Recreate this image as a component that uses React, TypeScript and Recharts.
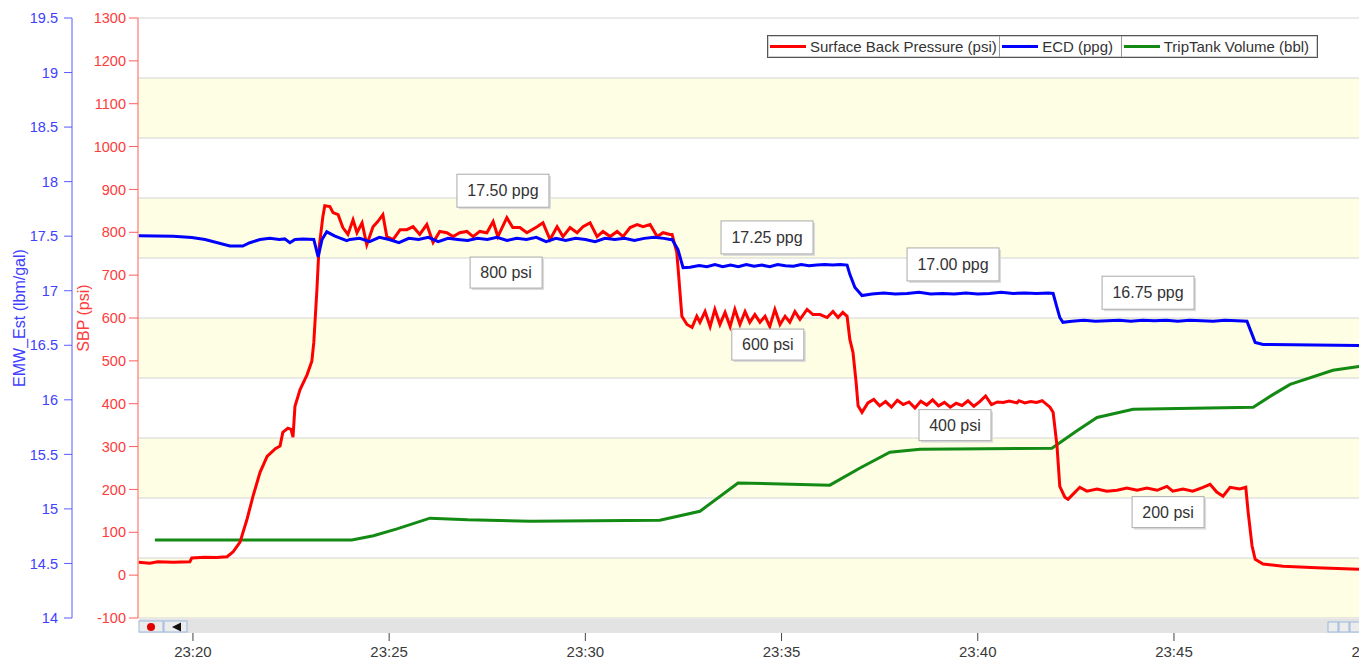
import { LineChart, Line, XAxis, YAxis, Legend, ReferenceDot, ReferenceArea, ReferenceLine } from 'recharts';

// time axis is minutes after 23:00
const timeTicks = [20, 25, 30, 35, 40, 45, 50];
const emwTicks = [14, 14.5, 15, 15.5, 16, 16.5, 17, 17.5, 18, 18.5, 19, 19.5];
const sbpTicks = [-100, 0, 100, 200, 300, 400, 500, 600, 700, 800, 900, 1000, 1100, 1200, 1300];
const bandLines = [0, 1, 2, 3, 4, 5, 6, 7, 8, 9, 10];
const yellowBandStarts = [0, 2, 4, 6, 8];

const seriesNames = ['Surface Back Pressure (psi)', 'ECD (ppg)', 'TripTank Volume (bbl)'];
const seriesColors = ['#ff0000', '#0000ff', '#138a13'];

// [time, psi]
const sbpPoints: [number, number][] = [
  [18.62, 30], [18.9, 28], [19.1, 31], [19.5, 30], [19.92, 31], [19.97, 40], [20.3, 42], [20.6, 41],
  [20.87, 43], [21.02, 54], [21.2, 77], [21.38, 131], [21.53, 184], [21.71, 240], [21.89, 277],
  [22.1, 295], [22.22, 301], [22.29, 333], [22.42, 343], [22.5, 340], [22.55, 322], [22.6, 394],
  [22.73, 433], [22.91, 468], [23.03, 499], [23.08, 543], [23.16, 667], [23.21, 760], [23.31, 836],
  [23.36, 862], [23.49, 860], [23.57, 846], [23.7, 841], [23.82, 811], [23.95, 795], [24.08, 829],
  [24.18, 799], [24.31, 822], [24.43, 771], [24.59, 813], [24.71, 825], [24.84, 841], [24.94, 790],
  [25.1, 783], [25.28, 806], [25.45, 806], [25.61, 813], [25.78, 795], [25.96, 818], [26.12, 776],
  [26.29, 802], [26.47, 799], [26.63, 790], [26.8, 799], [26.98, 802], [27.14, 790], [27.31, 802],
  [27.49, 799], [27.65, 825], [27.77, 790], [28.0, 834], [28.15, 811], [28.33, 811], [28.51, 799],
  [28.77, 813], [28.92, 822], [29.1, 783], [29.28, 813], [29.43, 790], [29.61, 811], [29.79, 799],
  [29.94, 813], [30.12, 822], [30.3, 790], [30.45, 802], [30.63, 790], [30.81, 802], [30.96, 790],
  [31.14, 811], [31.32, 818], [31.47, 813], [31.65, 818], [31.83, 790], [31.98, 799], [32.16, 795],
  [32.21, 795], [32.33, 753], [32.36, 720], [32.46, 604], [32.59, 585], [32.72, 578], [32.84, 604],
  [32.92, 590], [33.05, 615], [33.18, 580], [33.3, 620], [33.43, 585], [33.56, 613], [33.69, 580],
  [33.81, 620], [33.94, 585], [34.07, 615], [34.19, 590], [34.32, 608], [34.45, 590], [34.58, 604],
  [34.7, 580], [34.83, 620], [34.96, 585], [35.09, 604], [35.21, 590], [35.34, 615], [35.47, 597],
  [35.65, 620], [35.8, 608], [35.98, 608], [36.16, 601], [36.31, 615], [36.44, 601], [36.56, 613],
  [36.67, 604], [36.74, 550], [36.82, 520], [36.9, 450], [36.95, 395], [37.05, 380], [37.2, 402],
  [37.35, 410], [37.5, 395], [37.65, 405], [37.8, 392], [37.95, 408], [38.1, 398], [38.25, 404],
  [38.4, 390], [38.55, 406], [38.7, 397], [38.85, 409], [39.0, 395], [39.15, 403], [39.3, 392],
  [39.45, 401], [39.6, 396], [39.75, 407], [39.9, 394], [40.05, 405], [40.2, 418], [40.35, 398],
  [40.5, 404], [40.65, 403], [40.8, 406], [41.0, 402], [41.05, 407], [41.2, 402], [41.35, 405],
  [41.5, 403], [41.64, 407], [41.84, 392], [41.92, 380], [42.02, 301], [42.09, 207], [42.22, 182],
  [42.3, 177], [42.43, 189], [42.6, 205], [42.78, 196], [43.04, 201], [43.29, 196], [43.55, 198],
  [43.8, 203], [44.06, 198], [44.31, 203], [44.57, 198], [44.82, 207], [44.97, 196], [45.23, 201],
  [45.48, 196], [45.74, 205], [45.92, 212], [46.09, 194], [46.25, 184], [46.43, 205], [46.68, 201],
  [46.83, 205], [46.89, 147], [46.99, 68], [47.07, 37], [47.27, 26], [47.78, 21], [48.64, 17],
  [49.71, 14], [50.6, 14],
];

// [time, ppg]
const ecdPoints: [number, number][] = [
  [18.62, 17.505], [19.5, 17.5], [19.97, 17.487], [20.31, 17.47], [20.94, 17.41], [21.27, 17.41],
  [21.45, 17.44], [21.71, 17.47], [21.96, 17.48], [22.2, 17.47], [22.34, 17.475], [22.47, 17.44],
  [22.6, 17.47], [22.8, 17.475], [23.08, 17.47], [23.19, 17.31], [23.29, 17.47], [23.41, 17.54],
  [23.62, 17.5], [23.92, 17.46], [24.0, 17.47], [24.25, 17.48], [24.5, 17.45], [24.75, 17.49],
  [25.0, 17.47], [25.25, 17.44], [25.5, 17.48], [25.75, 17.47], [26.0, 17.49], [26.25, 17.45],
  [26.5, 17.48], [26.75, 17.47], [27.0, 17.46], [27.25, 17.48], [27.5, 17.47], [27.75, 17.49],
  [28.0, 17.46], [28.25, 17.48], [28.5, 17.47], [28.75, 17.49], [29.0, 17.45], [29.25, 17.48],
  [29.5, 17.46], [29.75, 17.48], [30.0, 17.47], [30.25, 17.45], [30.5, 17.48], [30.75, 17.47],
  [31.0, 17.48], [31.25, 17.46], [31.5, 17.48], [31.75, 17.49], [32.0, 17.48], [32.16, 17.47],
  [32.21, 17.47], [32.36, 17.377], [32.49, 17.212], [32.67, 17.215], [32.9, 17.23], [33.1, 17.22],
  [33.3, 17.24], [33.5, 17.22], [33.7, 17.235], [33.9, 17.22], [34.1, 17.24], [34.3, 17.225],
  [34.5, 17.235], [34.7, 17.22], [34.9, 17.24], [35.1, 17.23], [35.3, 17.225], [35.5, 17.24],
  [35.7, 17.23], [35.9, 17.235], [36.1, 17.24], [36.3, 17.235], [36.5, 17.24], [36.67, 17.235],
  [36.74, 17.15], [36.87, 17.03], [37.05, 16.956], [37.3, 16.97], [37.6, 16.98], [37.9, 16.97],
  [38.2, 16.975], [38.5, 16.985], [38.8, 16.97], [39.1, 16.975], [39.4, 16.97], [39.7, 16.98],
  [40.0, 16.97], [40.3, 16.975], [40.6, 16.985], [40.9, 16.975], [41.2, 16.98], [41.5, 16.975],
  [41.8, 16.98], [41.92, 16.975], [42.0, 16.87], [42.09, 16.755], [42.17, 16.71], [42.4, 16.72],
  [42.7, 16.73], [43.0, 16.72], [43.3, 16.725], [43.6, 16.73], [43.9, 16.72], [44.2, 16.73],
  [44.5, 16.725], [44.8, 16.73], [45.1, 16.72], [45.4, 16.73], [45.7, 16.725], [46.0, 16.72],
  [46.3, 16.73], [46.6, 16.725], [46.86, 16.72], [46.99, 16.6], [47.07, 16.526], [47.27, 16.507],
  [49.71, 16.498], [50.6, 16.498],
];

// [time, trip tank reading on the SBP scale]
const tripPoints: [number, number][] = [
  [19.03, 82], [24.05, 82], [24.6, 92], [25.2, 108], [26.04, 133], [27.0, 129], [28.59, 126],
  [31.9, 128], [32.92, 149], [33.89, 215], [36.23, 210], [37.0, 250], [37.76, 287], [38.53, 294],
  [41.89, 296], [42.5, 335], [43.04, 368], [43.96, 387], [47.02, 392], [47.5, 420], [47.96, 445],
  [49.05, 478], [49.71, 487], [50.6, 490],
];

const noteText = ['17.50 ppg', '800 psi', '17.25 ppg', '600 psi', '17.00 ppg', '400 psi', '16.75 ppg', '200 psi'];
const noteTime = [27.9, 27.98, 34.63, 34.65, 39.37, 39.42, 44.34, 44.85];
const noteSbp = [897, 706, 788, 538, 725, 350, 659, 147];

const toRows = (pts: [number, number][]) => pts.map(([t, v]) => ({ t, v }));
const sbpData = toRows(sbpPoints);
const ecdData = toRows(ecdPoints);
const tripData = toRows(tripPoints);

const cellWidths = [232, 122, 197];

// axis ids sort in placement order: the first one sits next to the plot
const SBP_AXIS = 'a1-sbp';
const EMW_AXIS = 'a2-emw';

function LegendBox() {
  return (
    <div
      style={{
        display: 'flex',
        height: 23,
        border: '1px solid #555',
        boxShadow: 'inset 0 0 0 1px #d0d0d0',
        background: '#fff',
        boxSizing: 'border-box',
      }}
    >
      {seriesNames.map((name, i) => (
        <div
          key={name}
          style={{
            display: 'flex',
            alignItems: 'center',
            width: cellWidths[i],
            boxSizing: 'border-box',
            borderLeft: i ? '1px solid #999' : 'none',
            paddingLeft: 2,
          }}
        >
          <span style={{ width: 36, height: 3, background: seriesColors[i], marginRight: 4, flex: 'none' }} />
          <span style={{ fontSize: 15, color: '#333', whiteSpace: 'nowrap' }}>{name}</span>
        </div>
      ))}
    </div>
  );
}

function AxisTitle(props: any) {
  const { viewBox, text, dx, color } = props;
  const cx = viewBox.x + dx;
  const cy = viewBox.y + viewBox.height / 2;
  return (
    <text
      x={cx}
      y={cy}
      fill={color}
      fontSize={16}
      textAnchor="middle"
      dominantBaseline="central"
      transform={`rotate(-90 ${cx} ${cy})`}
    >
      {text}
    </text>
  );
}

function TimeTick(props: any) {
  const { x, y, payload } = props;
  return (
    <g>
      <line x1={x} x2={x} y1={y + 15} y2={y + 23} stroke="#444" />
      <text x={x} y={y + 39} textAnchor="middle" fontSize={15} fill="#3a3a3a">
        {`23:${payload.value}`}
      </text>
    </g>
  );
}

function NoteBox(props: any) {
  const { cx, cy, text } = props;
  const wide = text.includes('ppg');
  const w = wide ? 92 : 72;
  const h = wide ? 33 : 31;
  return (
    <g>
      <rect x={cx - w / 2 + 2} y={cy - h / 2 + 2} width={w} height={h} fill="#dcdcdc" />
      <rect x={cx - w / 2} y={cy - h / 2} width={w} height={h} fill="#fff" stroke="#aaa" />
      <text x={cx} y={cy} textAnchor="middle" dominantBaseline="central" fontSize={16} fill="#333">
        {text}
      </text>
    </g>
  );
}

function ScrollBar() {
  return (
    <svg width={1359} height={16} style={{ position: 'absolute', left: 0, top: 619 }}>
      <rect x={139} y={0} width={1220} height={14} fill="#e3e3e3" />
      <rect x={139} y={2} width={24} height={11} fill="#ececec" stroke="#9bb8df" />
      <circle cx={151} cy={8} r={4} fill="#e00000" />
      <rect x={164} y={2} width={23} height={11} fill="#ececec" stroke="#9bb8df" />
      <path d="M172 8 L181 3.5 L181 12.5 Z" fill="#111" />
      <rect x={1328} y={3} width={10} height={10} fill="#ececec" stroke="#9bb8df" />
      <rect x={1339} y={3} width={10} height={10} fill="#ececec" stroke="#9bb8df" />
      <rect x={1350} y={3} width={10} height={10} fill="#ececec" stroke="#9bb8df" />
    </svg>
  );
}

export default function App() {
  return (
    <div
      style={{
        position: 'absolute',
        left: 0,
        top: 0,
        width: 1359,
        height: 661,
        overflow: 'hidden',
        background: '#fff',
        fontFamily: '"Liberation Sans", Arial, sans-serif',
      }}
    >
      <LineChart width={1400} height={661} margin={{ top: 18, right: 0, left: 0, bottom: 0 }}>
        <XAxis
          dataKey="t"
          type="number"
          domain={[18.6, 50.76]}
          ticks={timeTicks}
          interval={0}
          allowDataOverflow
          height={43}
          axisLine={false}
          tickLine={false}
          tickSize={0}
          tickMargin={0}
          tick={<TimeTick />}
        />
        <YAxis
          yAxisId={SBP_AXIS}
          orientation="left"
          width={66}
          domain={[-100, 1300]}
          ticks={sbpTicks}
          interval={0}
          allowDataOverflow
          stroke="#ff5c5c"
          tick={{ fill: '#ff3b3b', fontSize: 14.5 }}
          tickSize={9}
          tickMargin={3}
          label={(p: any) => <AxisTitle {...p} text="SBP (psi)" dx={11} color="#ff3b3b" />}
        />
        <YAxis
          yAxisId={EMW_AXIS}
          orientation="left"
          width={72}
          domain={[14, 19.5]}
          ticks={emwTicks}
          interval={0}
          allowDataOverflow
          stroke="#5b5bff"
          tick={{ fill: '#4040ff', fontSize: 14.5 }}
          tickSize={8}
          tickMargin={6}
          label={(p: any) => <AxisTitle {...p} text="EMW_Est (lbm/gal)" dx={19} color="#4040ff" />}
        />
        <YAxis
          yAxisId="band"
          orientation="right"
          width={0}
          domain={[0, 10]}
          allowDataOverflow
          tick={false}
          axisLine={false}
          tickLine={false}
        />
        {yellowBandStarts.map((b) => (
          <ReferenceArea
            key={`band-${b}`}
            yAxisId="band"
            y1={b}
            y2={b + 1}
            fill="#fefee4"
            fillOpacity={1}
            stroke="none"
            ifOverflow="visible"
          />
        ))}
        {bandLines.map((b) => (
          <ReferenceLine key={`line-${b}`} yAxisId="band" y={b} stroke="#d4d4d4" ifOverflow="visible" />
        ))}
        <Legend
          layout="horizontal"
          verticalAlign="middle"
          align="center"
          wrapperStyle={{ top: 35, left: 767, width: 551, height: 23 }}
          content={() => <LegendBox />}
        />
        <Line
          data={tripData}
          yAxisId={SBP_AXIS}
          dataKey="v"
          name={seriesNames[2]}
          stroke={seriesColors[2]}
          strokeWidth={3}
          dot={false}
          isAnimationActive={false}
        />
        <Line
          data={sbpData}
          yAxisId={SBP_AXIS}
          dataKey="v"
          name={seriesNames[0]}
          stroke={seriesColors[0]}
          strokeWidth={3}
          dot={false}
          isAnimationActive={false}
        />
        <Line
          data={ecdData}
          yAxisId={EMW_AXIS}
          dataKey="v"
          name={seriesNames[1]}
          stroke={seriesColors[1]}
          strokeWidth={3}
          dot={false}
          isAnimationActive={false}
        />
        {noteText.map((text, i) => (
          <ReferenceDot
            key={text}
            yAxisId={SBP_AXIS}
            x={noteTime[i]}
            y={noteSbp[i]}
            r={1}
            shape={(p: any) => <NoteBox {...p} text={text} />}
          />
        ))}
      </LineChart>
      <ScrollBar />
    </div>
  );
}
